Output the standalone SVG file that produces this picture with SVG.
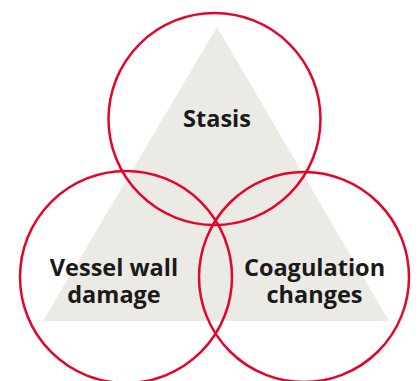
<svg xmlns="http://www.w3.org/2000/svg" width="418" height="381" viewBox="0 0 418 381">
<style>
.c{fill:none;stroke:#e2062a;stroke-width:2.5}
.t{font-family:"Open Sans","Noto Sans","Liberation Sans",sans-serif;font-weight:bold;font-size:23.5px;fill:#1a1a1a;text-anchor:middle}
</style>
<rect width="418" height="381" fill="#ffffff"/>
<polygon id="triangle" points="217,27 43,321 389,321" fill="#ebeae5"/>
<g id="stasis"><circle class="c" cx="214.5" cy="119" r="106"/><text class="t" x="217" y="127">Stasis</text></g>
<g id="vessel"><circle class="c" cx="126" cy="277" r="106"/><text class="t" x="114" y="276">Vessel wall</text><text class="t" x="114" y="303">damage</text></g>
<g id="coag"><circle class="c" cx="304" cy="277" r="105"/><text class="t" x="314.5" y="276">Coagulation</text><text class="t" x="314.5" y="303">changes</text></g>
<g id="connectors"/>
</svg>
